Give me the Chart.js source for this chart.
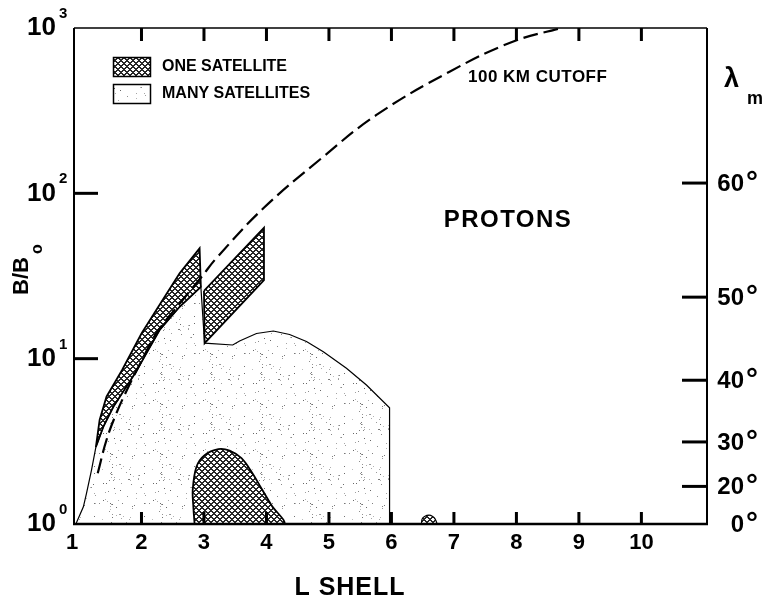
<!DOCTYPE html>
<html>
<head>
<meta charset="utf-8">
<script src="https://cdn.jsdelivr.net/npm/chart.js@4/dist/chart.umd.min.js"></script>
<style>
  html, body { margin: 0; padding: 0; background: #fff; }
  canvas { display: block; }
</style>
</head>
<body>
<canvas id="chart" width="765" height="601"></canvas>
<script>
// axis ticks
const lTicks = [1, 2, 3, 4, 5, 6, 7, 8, 9, 10];
const bTicks = [1, 10, 100, 1000];
const latTicks = [0, 20, 30, 40, 50, 60]; // magnetic latitude (deg) on the right axis

// 100 km cutoff (dashed)
const cutoffL = [1.30, 1.44, 1.60, 1.79, 2.03, 2.24, 2.56, 2.96, 3.20, 3.95, 4.88, 5.76, 6.93, 7.94, 8.72];
const cutoffB = [2.03, 3.22, 4.69, 6.74, 10.2, 14.3, 20.4, 31.2, 40.6, 81.2, 163, 298, 544, 826, 1000];

// many satellites (stippled envelope)
const manyL = [0.95, 1.07, 1.12, 1.20, 1.27, 1.39, 1.55, 1.91, 2.08, 2.29, 2.61, 2.95, 3.01, 3.46, 3.57, 3.84, 4.11, 4.37, 4.64, 4.91, 5.28, 5.60, 5.97, 5.97, 0.95];
const manyB = [1.0, 1.27, 1.53, 2.12, 2.92, 3.88, 5.12, 8.30, 10.8, 14.9, 20.6, 27.2, 12.4, 12.1, 12.8, 14.2, 14.7, 14.0, 12.7, 11.0, 8.75, 6.93, 5.05, 1.0, 1.0];

// one satellite (hatched): crescent, block at L 3-4, blob near L 3.3, speck at L 6.6
const crescL = [1.27, 1.33, 1.44, 1.69, 2.00, 2.27, 2.61, 2.93, 2.95, 2.61, 2.29, 2.08, 1.91, 1.55, 1.39, 1.27];
const crescB = [2.92, 4.26, 5.89, 8.54, 14.2, 20.6, 32.8, 46.5, 27.2, 20.6, 14.9, 10.8, 8.30, 5.12, 3.88, 2.92];
const blockL = [3.00, 3.96, 3.96, 3.01, 3.00];
const blockB = [25.7, 62.0, 29.9, 12.4, 25.7];
const blobL = [2.85, 2.83, 2.82, 2.88, 3.01, 3.23, 3.41, 3.60, 3.76, 3.92, 4.08, 4.27, 2.85];
const blobB = [1.0, 1.27, 1.61, 2.22, 2.61, 2.84, 2.78, 2.50, 2.07, 1.64, 1.30, 1.0, 1.0];
const speckL = [6.48, 6.49, 6.53, 6.60, 6.66, 6.70, 6.72, 6.48];
const speckB = [1.0, 1.07, 1.11, 1.13, 1.11, 1.07, 1.0, 1.0];

const FONT = "'Liberation Sans', Arial, sans-serif";

function pts(xs, ys) {
  return xs.map((x, i) => ({ x: x, y: ys[i] }));
}

// cross hatch tile
function makeHatch() {
  const c = document.createElement('canvas');
  c.width = 6; c.height = 6;
  const g = c.getContext('2d');
  const img = g.createImageData(6, 6);
  for (let j = 0; j < 6; j++) {
    for (let i = 0; i < 6; i++) {
      const d1 = (i + j) % 6, d2 = (i - j + 6) % 6;
      const v = (d1 < 2 || d2 < 2) ? 40 : 255;
      const k = (j * 6 + i) * 4;
      img.data[k] = img.data[k + 1] = img.data[k + 2] = v;
      img.data[k + 3] = 255;
    }
  }
  g.putImageData(img, 0, 0);
  return g.createPattern(c, 'repeat');
}

// sparse stipple tile
function makeStipple() {
  const c = document.createElement('canvas');
  c.width = 50; c.height = 50;
  const g = c.getContext('2d');
  g.fillStyle = '#fff';
  g.fillRect(0, 0, 50, 50);
  let s = 7;
  const next = () => { s = (s * 1103515245 + 12345) & 0x7fffffff; return s / 0x7fffffff; };
  for (let n = 0; n < 70; n++) {
    const v = Math.round(100 + next() * 90);
    g.fillStyle = 'rgb(' + v + ',' + v + ',' + v + ')';
    g.fillRect(Math.floor(next() * 50), Math.floor(next() * 50), 1, 1);
  }
  return g.createPattern(c, 'repeat');
}

const hatch = makeHatch();
const stipple = makeStipple();

function text(ctx, str, x, y, font, align, base, spacing) {
  ctx.font = font;
  ctx.textAlign = align || 'left';
  ctx.textBaseline = base || 'middle';
  ctx.letterSpacing = spacing || '0px';
  ctx.fillText(str, x, y);
  ctx.letterSpacing = '0px';
}

const frame = {
  id: 'frame',
  afterDatasetsDraw(chart) {
    const ctx = chart.ctx;
    const xs = chart.scales.x, ys = chart.scales.y;
    const a = chart.chartArea;
    ctx.save();
    ctx.strokeStyle = '#000';
    ctx.fillStyle = '#000';
    ctx.lineCap = 'butt';

    // box
    ctx.lineWidth = 2;
    ctx.beginPath();
    ctx.moveTo(a.left, a.top); ctx.lineTo(a.left, a.bottom);
    ctx.moveTo(a.right, a.top); ctx.lineTo(a.right, a.bottom);
    ctx.stroke();
    ctx.lineWidth = 1.5;
    ctx.beginPath(); ctx.moveTo(a.left, a.top); ctx.lineTo(a.right, a.top); ctx.stroke();
    ctx.lineWidth = 2.5;
    ctx.beginPath(); ctx.moveTo(a.left - 1, a.bottom); ctx.lineTo(a.right + 1, a.bottom); ctx.stroke();

    // L ticks (inside, top and bottom) and labels
    lTicks.forEach(l => {
      const px = xs.getPixelForValue(l);
      if (l > 1) {
        ctx.lineWidth = 3;
        ctx.beginPath();
        ctx.moveTo(px, a.bottom); ctx.lineTo(px, a.bottom - 12);
        ctx.moveTo(px, a.top); ctx.lineTo(px, a.top + 13);
        ctx.stroke();
      }
      text(ctx, String(l), l === 1 ? px - 7 : px, 543, 'bold 22px ' + FONT, 'center');
    });

    // B/Bo decades
    bTicks.forEach(b => {
      const py = ys.getPixelForValue(b);
      if (b > 1 && b < 1000) {
        ctx.lineWidth = 3;
        ctx.beginPath(); ctx.moveTo(a.left, py); ctx.lineTo(a.left + 24, py); ctx.stroke();
      }
      text(ctx, '10', 56, py, 'bold 26px ' + FONT, 'right');
      text(ctx, String(Math.round(Math.log10(b))), 59, py - 14, 'bold 15px ' + FONT, 'left');
    });

    // magnetic latitude on the right, placed at the dipole equatorial B/Bo
    latTicks.forEach(lat => {
      const r = lat * Math.PI / 180;
      const s = Math.sin(r), c = Math.cos(r);
      const b = Math.sqrt(1 + 3 * s * s) / Math.pow(c, 6);
      const py = ys.getPixelForValue(b);
      if (lat > 0) {
        ctx.lineWidth = 3;
        ctx.beginPath(); ctx.moveTo(a.right - 25, py); ctx.lineTo(a.right, py); ctx.stroke();
      }
      text(ctx, String(lat), 744, py + 1, 'bold 24px ' + FONT, 'right');
      text(ctx, '°', 746, py + 9, 'bold 30px ' + FONT, 'left', 'alphabetic');
    });
    text(ctx, 'λ', 724, 80, 'bold 27px ' + FONT, 'left');
    text(ctx, 'm', 747, 99, 'bold 18px ' + FONT, 'left');

    // axis titles
    text(ctx, 'L SHELL', 350, 588, 'bold 25px ' + FONT, 'center', 'middle', '1px');
    ctx.save();
    ctx.translate(28, 295);
    ctx.rotate(-Math.PI / 2);
    text(ctx, 'B/B', 0, 0, 'bold 22px ' + FONT, 'left', 'alphabetic');
    text(ctx, 'o', 41, 14, 'bold 16px ' + FONT, 'left', 'alphabetic');
    ctx.restore();

    // annotations
    text(ctx, '100 KM CUTOFF', 468, 77, 'bold 17px ' + FONT, 'left', 'middle', '0.5px');
    text(ctx, 'PROTONS', 508, 220, 'bold 24px ' + FONT, 'center', 'middle', '1.5px');

    // legend
    ctx.lineWidth = 1.5;
    ctx.fillStyle = hatch;
    ctx.fillRect(113.5, 57.5, 37, 19);
    ctx.strokeRect(113.5, 57.5, 37, 19);
    ctx.fillStyle = stipple;
    ctx.fillRect(113.5, 84.5, 37, 19);
    ctx.strokeRect(113.5, 84.5, 37, 19);
    ctx.fillStyle = '#000';
    text(ctx, 'ONE SATELLITE', 162, 67, 'bold 16px ' + FONT, 'left');
    text(ctx, 'MANY SATELLITES', 162, 94, 'bold 16px ' + FONT, 'left');

    ctx.restore();
  }
};

const shape = (xs, ys, bg, width, tension, order) => ({
  data: pts(xs, ys),
  fill: 'shape',
  backgroundColor: bg,
  borderColor: '#000',
  borderWidth: width,
  pointRadius: 0,
  tension: tension,
  order: order
});

new Chart(document.getElementById('chart'), {
  type: 'line',
  data: {
    datasets: [
      {
        data: pts(cutoffL, cutoffB),
        fill: false,
        borderColor: '#000',
        borderWidth: 2.2,
        borderDash: [15, 6],
        pointRadius: 0,
        tension: 0.4,
        order: 0
      },
      shape(crescL, crescB, hatch, 1.8, 0, 1),
      shape(blockL, blockB, hatch, 1.8, 0, 1),
      shape(blobL, blobB, hatch, 1.8, 0.35, 1),
      shape(speckL, speckB, hatch, 1.2, 0.3, 1),
      shape(manyL, manyB, stipple, 1.2, 0, 2)
    ]
  },
  options: {
    responsive: false,
    animation: false,
    events: [],
    layout: { padding: { left: 74, top: 28, right: 58, bottom: 77 } },
    plugins: { legend: { display: false }, tooltip: { enabled: false } },
    scales: {
      x: { type: 'linear', min: 0.92, max: 11.05, display: false },
      y: { type: 'logarithmic', min: 1, max: 1000, display: false }
    }
  },
  plugins: [frame]
});
</script>
</body>
</html>
